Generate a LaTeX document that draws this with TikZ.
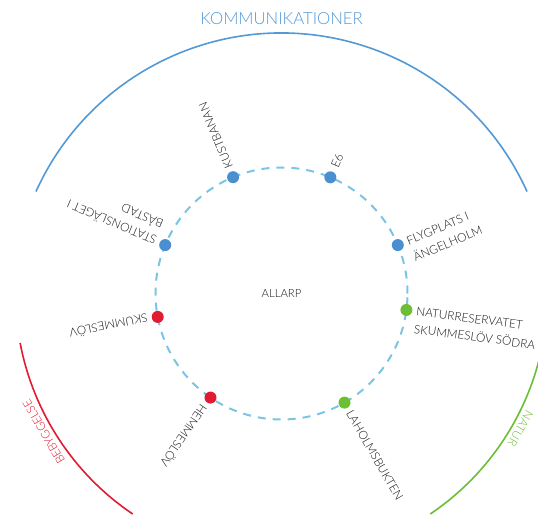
\documentclass[tikz,border=0pt]{standalone}
\usepackage{fontspec}
\setmainfont{Lato}[UprightFont={* Light}]
\usetikzlibrary{calc}
\definecolor{dashblue}{RGB}{122,196,230}
\definecolor{dotblue}{RGB}{74,144,208}
\definecolor{arcblue}{RGB}{82,153,214}
\definecolor{arcred}{RGB}{226,26,50}
\definecolor{arcgreen}{RGB}{108,190,52}
\definecolor{labelgray}{RGB}{20,20,20}
\begin{document}
\begin{tikzpicture}[x=1pt,y=1pt,
  lbl/.style={inner sep=0pt, font=\fontsize{11.8}{13}\selectfont, text=labelgray, anchor=west},
  dotnode/.style={circle, inner sep=0pt, minimum size=12pt, draw=none},
  catlbl/.style={inner sep=0pt, font=\fontsize{11.8}{13}\selectfont},
  outerarc/.style={line width=1.6pt}
]
\useasboundingbox (-281.5,-223.5) rectangle (256.5,293.5);
\coordinate (c) at (0,0);
% dashed circle
\draw[dashblue, line width=2pt, dash pattern=on 8pt off 7pt] (c) circle (126);
% outer arcs
\draw[arcblue, outerarc] ([shift={(0,-8.9)}]24.3:269.4) arc (24.3:155.7:269.4);
\draw[arcred, outerarc] (190.7:266) arc (190.7:236:266);
\draw[arcgreen, outerarc] (-10.7:266) arc (-10.7:-56:266);
% category labels
\node[font=\fontsize{16.7}{18}\selectfont, text=arcblue, anchor=base, inner sep=0pt] (kom) at (0,268.5) {KOMMUNIKATIONER};
\node[catlbl, text=arcred, rotate=120.2] (beb) at (210.2:275) {BEBYGGELSE};
\node[catlbl, text=arcgreen, rotate=-119.5] (nat) at (-29.5:274.5) {NATUR};
% centre
\node[lbl, anchor=center, font=\fontsize{11.3}{13}\selectfont] (allarp) at (c) {ALLARP};
% dots
\node[dotnode, fill=dotblue] (kust) at (112.6:126) {};
\node[dotnode, fill=dotblue] (e6) at (67.2:126) {};
\node[dotnode, fill=dotblue] (stat) at (157.4:126) {};
\node[dotnode, fill=dotblue] (flyg) at (22.6:126) {};
\node[dotnode, fill=arcred] (skum) at (190.7:126) {};
\node[dotnode, fill=arcgreen] (natr) at (-7.5:126) {};
\node[dotnode, fill=arcred] (hemm) at (235.7:126) {};
\node[dotnode, fill=arcgreen] (laho) at (-60:126) {};
% labels
\node[lbl, rotate=112.6] (lkust) at (112.6:136) {KUSTBANAN};
\node[lbl, rotate=67.2] (le6) at (67.2:137) {E6};
\node[lbl, rotate=157.4] (lstat) at (157.4:136) {STATIONSLÄGET I};
\node[lbl, rotate=157.4] (lstatb) at ($(lstat.west)!17pt!-90:(lstat.east)$) {BÅSTAD};
\node[lbl, rotate=22.6] (lflyg) at (22.6:136) {FLYGPLATS I};
\node[lbl, rotate=22.6] (lflygb) at ($(lflyg.west)!17pt!-90:(lflyg.east)$) {ÄNGELHOLM};
\node[lbl, rotate=190.7] (lskum) at (190.7:136) {SKUMMESLÖV};
\node[lbl, rotate=-7.5] (lnatr) at (-7.5:136) {NATURRESERVATET};
\node[lbl, rotate=-7.5] (lnatrb) at ($(lnatr.west)!17pt!-90:(lnatr.east)$) {SKUMMESLÖV SÖDRA};
\node[lbl, rotate=235.7] (lhemm) at (235.7:136) {HEMMESLÖV};
\node[lbl, rotate=-60] (llaho) at (-60:136) {LAHOLMSBUKTEN};
\end{tikzpicture}
\end{document}
